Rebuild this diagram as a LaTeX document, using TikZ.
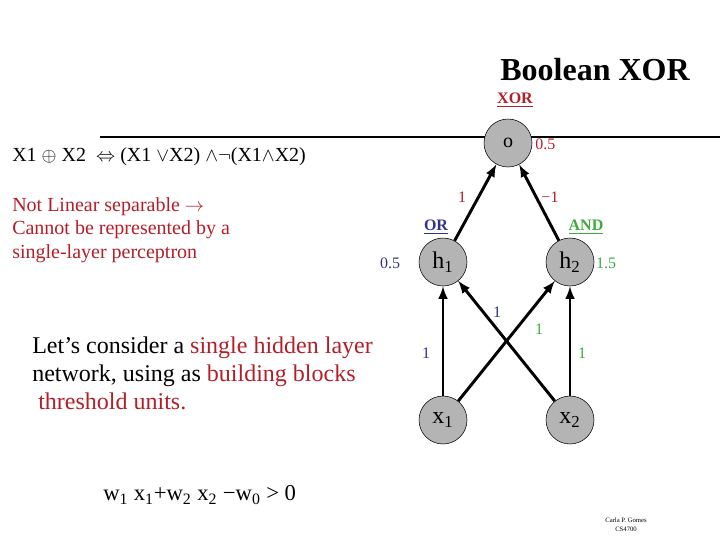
\documentclass[tikz,border=0pt]{standalone}
\usepackage{fontspec}
\setmainfont{Liberation Serif}
\usepackage{tikz}
\usetikzlibrary{arrows}
\definecolor{slidered}{RGB}{180,30,40}
\definecolor{slideblue}{RGB}{50,50,140}
\definecolor{slidegreen}{RGB}{60,170,60}
\definecolor{unitgray}{RGB}{180,180,180}
\tikzset{
  unit/.style={circle,draw=black,thin,fill=unitgray,minimum size=36pt,inner sep=0pt,font=\fontsize{18}{18}\selectfont},
  wire/.style={-latex,line width=2.2pt},
  wt/.style={font=\fontsize{12}{12}\selectfont,inner sep=0pt},
  gate/.style={font=\fontsize{12}{12}\bfseries\selectfont,inner sep=0pt}
}

\begin{document}
\begin{tikzpicture}[x=0.75pt,y=-0.75pt]
\useasboundingbox (0,0) rectangle (720,540);
\node[font=\fontsize{24}{24}\bfseries\selectfont] (title) at (595,70) {Boolean XOR};
\draw[line width=2.2pt] (100,137) -- (720,137);
% the network
\node[unit,font=\fontsize{15}{15}\selectfont] (o) at (508,143) {o};
\node[unit] (h1) at (443,262) {h\textsubscript{1}};
\node[unit] (h2) at (570,262) {h\textsubscript{2}};
\node[unit] (x1) at (443,420) {x\textsubscript{1}};
\node[unit] (x2) at (570,420) {x\textsubscript{2}};
\draw[wire] (h1) -- (o);
\draw[wire] (h2) -- (o);
\draw[wire] (x1) -- (h1);
\draw[wire] (x2) -- (h1);
\draw[wire] (x1) -- (h2);
\draw[wire] (x2) -- (h2);
% gate names and thresholds
\node[gate,slidered] (xorname) at (515,100) {\underline{XOR}};
\node[gate,slideblue] (orname) at (436,227) {\underline{OR}};
\node[gate,slidegreen] (andname) at (586,227) {\underline{AND}};
\node[wt,slidered,anchor=west] (to) at (535,144) {0.5};
\node[wt,slideblue] (th1) at (390,263) {0.5};
\node[wt,slidegreen] (th2) at (606,263) {1.5};
% weights
\node[wt,slidered] (w1o) at (462,197) {1};
\node[wt,slidered] (w2o) at (550,197) {−1};
\node[wt,slideblue] (w21) at (497,312) {1};
\node[wt,slidegreen] (w12) at (539,329) {1};
\node[wt,slideblue] (w11) at (426,353) {1};
\node[wt,slidegreen] (w22) at (582,353) {1};
% text on the left
\node[anchor=west,inner sep=0pt,font=\fontsize{15}{15}\selectfont] (eqn) at (12,157)
  {X1 $\oplus$ X2 \ $\Leftrightarrow$ (X1 $\vee$X2) $\wedge\neg$(X1$\wedge$X2)};
\node[anchor=north west,inner sep=0pt,align=left,slidered,font=\fontsize{15}{17.6}\selectfont] (note) at (12,197)
  {Not Linear separable $\rightarrow$\\Cannot be represented by a\\single-layer perceptron};
\node[anchor=north west,inner sep=0pt,align=left,font=\fontsize{18}{21}\selectfont] (idea) at (32,337)
  {Let’s consider a \textcolor{slidered}{single hidden layer}\\network, using as \textcolor{slidered}{building blocks}\\\textcolor{slidered}{\ threshold units.}};
\node[anchor=west,inner sep=0pt,font=\fontsize{17}{17}\selectfont] (rule) at (103,495)
  {w\textsubscript{1} x\textsubscript{1}+w\textsubscript{2} x\textsubscript{2} −w\textsubscript{0} > 0};
\node[inner sep=0pt,align=center,font=\fontsize{5}{7}\selectfont] (credit) at (626,525) {Carla P. Gomes\\CS4700};
\end{tikzpicture}
\end{document}
